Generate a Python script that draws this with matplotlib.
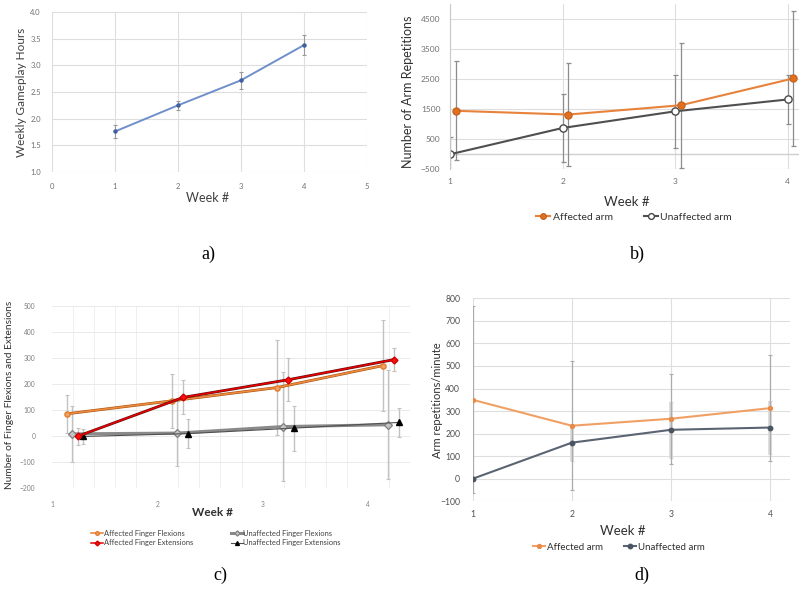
import matplotlib
matplotlib.use("Agg")
import matplotlib.pyplot as plt
from matplotlib.ticker import MultipleLocator

W, H = 804, 590
fig = plt.figure(figsize=(W / 100, H / 100), dpi=100)
SANS = ["Lato", "DejaVu Sans"]
SERIF = ["Liberation Serif", "DejaVu Serif"]
plt.rcParams["font.family"] = SANS

# ---------------- data ----------------
weeks = [1, 2, 3, 4]

# a) weekly gameplay hours
gameplay_hours = [1.76, 2.25, 2.72, 3.38]
gameplay_err = [0.12, 0.09, 0.16, 0.18]

# b) number of arm repetitions
arm_affected = [1450, 1325, 1635, 2530]
arm_affected_err = [1650, 1705, 2085, 2250]
arm_unaffected = [0, 877, 1433, 1828]
arm_unaffected_err = [575, 1120, 1211, 816]

# c) finger flexions / extensions
aff_flex = [86, 136, 187, 271]
aff_flex_err = [73, 104, 184, 175]
unaff_flex = [9, 12, 37, 44]
unaff_flex_err = [107, 125, 208, 209]
aff_ext = [0, 149, 217, 294]
aff_ext_err = [33, 65, 82, 43]
unaff_ext = [-1, 10, 31, 53]
unaff_ext_err = [30, 57, 86, 55]

# d) arm repetitions per minute
rate_affected = [350, 235, 266, 313]
rate_affected_err = [414, 286, 200, 235]
rate_unaffected = [0, 160, 217, 227]
rate_unaffected_err = [0, 80, 125, 118]


def rect(l, t, r, b):
    return [l / W, 1 - b / H, (r - l) / W, (b - t) / H]


def ftext(x, y, s, **kw):
    fig.text(x / W, 1 - y / H, s, ha="center", va="center", **kw)


def style(ax, fs, tickcol="#707070"):
    for s in ax.spines.values():
        s.set_visible(False)
    ax.tick_params(length=0, labelsize=fs, colors=tickcol)
    ax.set_axisbelow(True)


GRID = "#dedede"

# ---------------- a ----------------
axA = fig.add_axes(rect(52, 12, 367, 172))
style(axA, 5.5)
axA.set_xlim(0, 5)
axA.set_ylim(1, 4)
axA.set_xticks(range(0, 6))
axA.set_yticks([1.0, 1.5, 2.0, 2.5, 3.0, 3.5, 4.0])
axA.set_yticklabels([f"{v:.1f}" for v in axA.get_yticks()])
axA.grid(True, color=GRID, lw=0.8)
axA.tick_params(axis="y", pad=8)
axA.tick_params(axis="x", pad=8)
axA.errorbar(weeks, gameplay_hours, yerr=gameplay_err, fmt="none",
             ecolor="#9a9a9a", elinewidth=0.8, capsize=1.5, capthick=0.8)
axA.plot(weeks, gameplay_hours, color="#6f8fcb", lw=1.4, marker="o", ms=2.2,
         mfc="#3f5f9f", mec="#3f5f9f")
ftext(22, 92, "Weekly Gameplay Hours", rotation=90, fontsize=8.5, color="#404040")
ftext(208, 198, "Week #", fontsize=9, color="#404040")

# ---------------- b ----------------
axB = fig.add_axes(rect(450, 4.3, 799, 169.3))
style(axB, 6)
axB.spines["left"].set_visible(True)
axB.spines["left"].set_color("#c8c8c8")
axB.set_xlim(1, 4.1)
axB.set_ylim(-500, 5000)
axB.set_xticks(weeks)
axB.set_yticks([-500, 500, 1500, 2500, 3500, 4500])
axB.grid(True, color=GRID, lw=0.8)
axB.axhline(0, color="#cfcfcf", lw=1.0)
axB.tick_params(axis="y", pad=7)
axB.tick_params(axis="x", pad=6)
xb_aff = [w + 0.05 for w in weeks]
axB.errorbar(weeks, arm_unaffected, yerr=arm_unaffected_err, fmt="none",
             ecolor="#8c8c8c", elinewidth=0.9, capsize=1.8, capthick=0.9)
axB.errorbar(xb_aff, arm_affected, yerr=arm_affected_err, fmt="none",
             ecolor="#8c8c8c", elinewidth=0.9, capsize=1.8, capthick=0.9)
lb2, = axB.plot(weeks, arm_unaffected, color="#4f4f4f", lw=1.5, marker="o",
                ms=5.2, mfc="white", mec="#4a4a4a", mew=1.0)
lb1, = axB.plot(xb_aff, arm_affected, color="#e8823a", lw=1.5, marker="o",
                ms=5.2, mfc="#e07020", mec="#c0601a", mew=0.8)
ftext(408, 92, "Number of Arm Repetitions", rotation=90, fontsize=9, color="#303030")
ftext(627, 202, "Week #", fontsize=9.5, color="#303030")
fig.legend([lb1, lb2], ["Affected arm", "Unaffected arm"], loc="center",
           bbox_to_anchor=(634 / W, 1 - 217 / H), ncol=2, frameon=False,
           fontsize=7.5, handlelength=1.4, handletextpad=0.2, columnspacing=3,
           labelcolor="#303030", markerscale=0.8)

# ---------------- c ----------------
axC = fig.add_axes(rect(52, 306, 410, 488.3))
style(axC, 4.8, "#808080")
axC.set_xlim(1, 4.4)
axC.set_ylim(-200, 500)
axC.set_xticks(weeks)
axC.xaxis.set_minor_locator(MultipleLocator(0.2))
axC.set_yticks(range(-200, 501, 100))
axC.grid(True, which="major", axis="y", color="#e6e6e6", lw=0.6)
axC.grid(True, which="minor", axis="x", color="#ececec", lw=0.6)
axC.tick_params(which="minor", length=0)
axC.tick_params(axis="y", pad=12)
axC.tick_params(axis="x", pad=9)
off = [0.14, 0.19, 0.245, 0.295]
xc = [[w + o for w in weeks] for o in off]
ekw = dict(fmt="none", ecolor="#c2c2c2", elinewidth=1.0, capsize=1.6, capthick=0.8)
axC.errorbar(xc[0], aff_flex, yerr=aff_flex_err, **ekw)
axC.errorbar(xc[1], unaff_flex, yerr=unaff_flex_err, **ekw)
axC.errorbar(xc[2], aff_ext, yerr=aff_ext_err, **ekw)
axC.errorbar(xc[3], unaff_ext, yerr=unaff_ext_err, **ekw)
lc2, = axC.plot(xc[1], unaff_flex, color="#8a8a8a", lw=2.2, marker="D", ms=3.8,
                mfc="#c4c4c4", mec="#808080", mew=0.9)
lc4, = axC.plot(xc[3], unaff_ext, color="#505050", lw=0.8, marker="^", ms=4,
                mfc="black", mec="black")
axC.plot(xc[0], aff_flex, color="#a85010", lw=2.0)
lc1, = axC.plot(xc[0], aff_flex, color="#ee8a3c", lw=1.2, marker="o", ms=3.8,
                mfc="#f2a060", mec="#e07828", mew=0.9)
axC.plot(xc[2], aff_ext, color="#601010", lw=2.0)
lc3, = axC.plot(xc[2], aff_ext, color="#e80000", lw=1.1, marker="D", ms=3.5,
                mfc="#ff1010", mec="#d00000")
ftext(10, 395, "Number of Finger Flexions and Extensions", rotation=90,
      fontsize=7.3, color="#303030")
ftext(212, 512, "Week #", fontsize=8.5, color="#303030", fontweight="bold")
fig.legend([lc1, lc3, lc2, lc4],
           ["Affected Finger Flexions", "Affected Finger Extensions",
            "Unaffected Finger Flexions", "Unaffected Finger Extensions"],
           loc="center", bbox_to_anchor=(216 / W, 1 - 538 / H), ncol=2,
           frameon=False, fontsize=5.4, handlelength=1.6, handletextpad=0.1,
           columnspacing=5.0, labelspacing=0.35, labelcolor="#404040",
           markerscale=0.7)

# ---------------- d ----------------
axD = fig.add_axes(rect(472.7, 298.3, 789.9, 501.3))
style(axD, 6.2, "#505050")
axD.set_xlim(1, 4.2)
axD.set_ylim(-100, 800)
axD.set_xticks(weeks)
axD.set_yticks(range(-100, 801, 100))
axD.grid(True, color=GRID, lw=0.8)
axD.tick_params(axis="y", pad=9)
axD.tick_params(axis="x", pad=6)
axD.errorbar(weeks, rate_unaffected, yerr=rate_unaffected_err, fmt="none",
             ecolor="#d8d8d8", elinewidth=2.6, capsize=1.5, capthick=0.8)
axD.errorbar(weeks, rate_affected, yerr=rate_affected_err, fmt="none",
             ecolor="#ababab", elinewidth=0.9, capsize=1.5, capthick=0.8)
ld1, = axD.plot(weeks, rate_affected, color="#f0a064", lw=1.5, marker="o", ms=2.8,
                mfc="#e88a48", mec="#e88a48")
ld2, = axD.plot(weeks, rate_unaffected, color="#5a6472", lw=1.5, marker="o", ms=3.2,
                mfc="#4a5462", mec="#4a5462")
ftext(438, 400, "Arm repetitions/minute", rotation=90, fontsize=8, color="#303030")
ftext(623, 531, "Week #", fontsize=9.5, color="#303030")
fig.legend([ld1, ld2], ["Affected arm", "Unaffected arm"], loc="center",
           bbox_to_anchor=(619 / W, 1 - 547 / H), ncol=2, frameon=False,
           fontsize=7, handlelength=1.2, handletextpad=0.2, columnspacing=2.2,
           labelcolor="#303030")

# ---------------- panel captions ----------------
for x, y, s in [(208, 254, "a)"), (637, 254, "b)"), (220, 575, "c)"), (642, 575, "d)")]:
    ftext(x, y, s, fontsize=13, family=SERIF, color="black")

fig.savefig("out.png", dpi=100)
